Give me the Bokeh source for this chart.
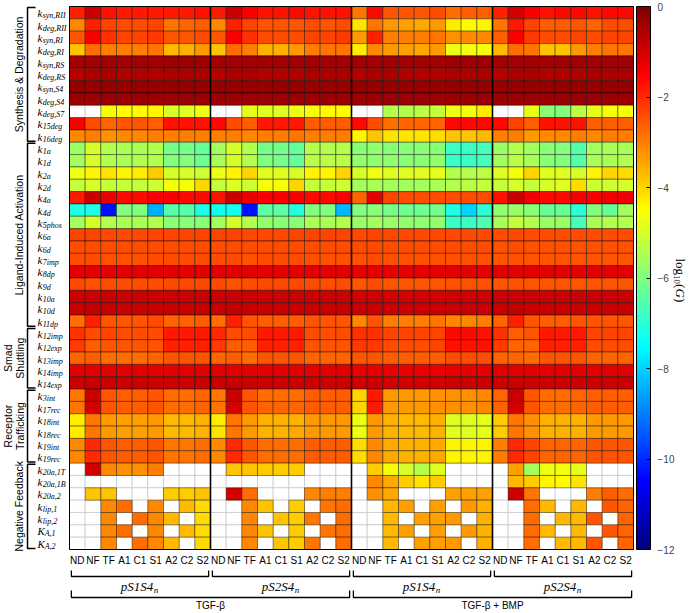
import math
from bokeh.plotting import figure
from bokeh.models import ColumnDataSource, LinearColorMapper, ColorBar, FixedTicker, Range1d
from bokeh.core.properties import value
from bokeh.embed import file_html
from bokeh.resources import INLINE

N = float("nan")

# ---------------- data ----------------
conditions = ["ND", "NF", "TF", "A1", "C1", "S1", "A2", "C2", "S2"]
group_names = ["pS1S4", "pS2S4", "pS1S4", "pS2S4"]
treatments = ["TGF-β", "TGF-β + BMP"]
section_titles = [["Synthesis & Degradation"], ["Ligand-Induced Activation"],
                  ["Smad", "Shuttling"], ["Receptor", "Trafficking"], ["Negative Feedback"]]
param_main = ["k"] * 42 + ["K", "K"]
param_sub = ["syn,RII", "deg,RII", "syn,RI", "deg,RI", "syn,RS", "deg,RS", "syn,S4", "deg,S4",
             "deg,S7", "15deg", "16deg",
             "1a", "1d", "2a", "2d", "4a", "4d", "5phos", "6a", "6d", "7imp", "8dp", "9d",
             "10a", "10d", "11dp",
             "12imp", "12exp", "13imp", "14imp", "14exp",
             "3int", "17rec", "18int", "18rec", "19int", "19rec",
             "20a,1T", "20a,1B", "20a,2", "lip,1", "lip,2", "A,1", "A,2"]

# log10(G) values, columns: 4 groups x (ND NF TF A1 C1 S1 A2 C2 S2); NaN = not applicable
synthesis_degradation = [
    [-1.9, -0.9, -1.7, -1.8, -1.8, -1.8, -1.8, -1.8, -1.7,  -1.8, -0.9, -1.5, -1.7, -1.7, -1.6, -1.7, -1.7, -1.7,
     -2.9, -1.6, -2.5, -2.5, -2.5, -2.4, -2.8, -2.6, -2.6,  -1.9, -1.0, -1.5, -1.7, -1.6, -1.6, -1.7, -1.6, -1.6],
    [-3.1, -1.9, -2.3, -2.4, -2.4, -2.3, -2.9, -2.7, -2.6,  -3.1, -1.9, -2.3, -2.5, -2.5, -2.5, -2.4, -2.5, -2.4,
     -4.2, -2.9, -3.3, -3.4, -3.5, -3.3, -4.3, -4.5, -4.4,  -2.9, -1.8, -2.3, -2.6, -2.6, -2.5, -2.7, -2.4, -2.4],
    [-2.5, -1.5, -2.1, -2.3, -2.3, -2.2, -2.5, -2.5, -2.4,  -2.5, -1.5, -2.1, -2.4, -2.4, -2.4, -2.3, -2.3, -2.2,
     -3.3, -1.9, -3.0, -3.0, -3.0, -2.9, -3.2, -3.1, -3.1,  -2.6, -1.5, -2.2, -2.4, -2.4, -2.3, -2.4, -2.3, -2.3],
    [-3.8, -2.8, -3.0, -3.0, -3.0, -2.9, -3.7, -3.6, -3.3,  -3.8, -2.8, -3.0, -3.6, -3.6, -3.3, -3.0, -2.9, -2.9,
     -4.3, -3.1, -3.3, -3.4, -3.5, -3.3, -4.7, -4.6, -4.6,  -3.7, -2.8, -2.9, -3.8, -3.8, -3.3, -3.0, -2.9, -2.9],
    [-0.45, -0.4, -0.4, -0.4, -0.4, -0.4, -0.35, -0.35, -0.35,  -0.45, -0.4, -0.4, -0.4, -0.4, -0.4, -0.4, -0.4, -0.4,
     -0.4, -0.4, -0.4, -0.4, -0.4, -0.4, -0.35, -0.35, -0.35,  -0.4, -0.4, -0.4, -0.4, -0.4, -0.4, -0.4, -0.4, -0.4],
    [-0.7, -0.55, -0.55, -0.6, -0.6, -0.6, -0.55, -0.55, -0.55,  -0.7, -0.55, -0.55, -0.6, -0.6, -0.6, -0.55, -0.55, -0.55,
     -0.65, -0.55, -0.55, -0.6, -0.6, -0.6, -0.55, -0.55, -0.55,  -0.7, -0.55, -0.55, -0.6, -0.6, -0.6, -0.55, -0.55, -0.55],
    [-0.3, -0.3, -0.3, -0.3, -0.3, -0.3, -0.3, -0.3, -0.3,  -0.3, -0.3, -0.3, -0.3, -0.3, -0.3, -0.3, -0.3, -0.3,
     -0.3, -0.3, -0.3, -0.3, -0.3, -0.3, -0.3, -0.3, -0.3,  -0.3, -0.3, -0.3, -0.3, -0.3, -0.3, -0.3, -0.3, -0.3],
    [-0.35, -0.35, -0.35, -0.35, -0.35, -0.35, -0.35, -0.35, -0.35,  -0.35, -0.35, -0.35, -0.35, -0.35, -0.35, -0.35, -0.35, -0.35,
     -0.35, -0.35, -0.35, -0.35, -0.35, -0.35, -0.35, -0.35, -0.35,  -0.35, -0.35, -0.35, -0.35, -0.35, -0.35, -0.35, -0.35, -0.35],
    [N, N, -4.6, -4.5, -4.5, -4.4, -5.0, -4.9, -4.7,  N, N, -4.8, -4.9, -4.9, -4.7, -4.6, -4.5, -4.5,
     N, N, -5.4, -5.4, -5.3, -5.2, -4.7, -4.6, -4.3,  N, N, -4.8, -5.9, -6.0, -5.3, -4.8, -4.6, -4.6],
    [-1.5, -2.4, -2.7, -2.5, -2.5, -2.6, -1.7, -1.7, -1.7,  -1.6, -2.4, -2.6, -1.8, -1.8, -1.8, -2.6, -2.6, -2.6,
     -1.6, -2.4, -2.8, -2.7, -2.7, -2.7, -1.6, -1.6, -1.6,  -1.6, -2.3, -2.6, -1.7, -1.7, -1.7, -2.6, -2.6, -2.6],
    [-3.1, -3.0, -3.2, -3.1, -3.1, -3.0, -3.0, -3.0, -3.0,  -3.0, -3.0, -3.1, -3.0, -3.0, -2.9, -3.0, -3.0, -3.0,
     -4.4, -3.8, -4.2, -4.2, -4.2, -4.1, -3.8, -3.8, -3.7,  -3.0, -3.0, -3.3, -3.1, -3.1, -3.0, -3.1, -3.0, -3.0],
]

ligand_activation = [
    [-5.7, -5.0, -5.4, -5.5, -5.5, -5.4, -6.1, -6.1, -6.3,  -5.6, -5.0, -5.4, -6.1, -6.1, -6.3, -5.4, -5.4, -5.4,
     -5.9, -5.8, -5.9, -5.9, -5.9, -5.9, -6.8, -6.8, -6.7,  -5.7, -5.4, -5.6, -5.9, -6.0, -6.5, -5.6, -5.5, -5.5],
    [-5.6, -5.0, -5.4, -5.5, -5.4, -5.4, -6.0, -6.0, -6.2,  -5.5, -5.0, -5.4, -6.0, -6.1, -6.3, -5.3, -5.3, -5.3,
     -5.8, -5.8, -5.8, -5.9, -5.9, -5.8, -6.8, -6.8, -6.7,  -5.6, -5.3, -5.5, -5.9, -6.0, -6.5, -5.5, -5.5, -5.4],
    [-4.7, -4.4, -4.2, -4.4, -4.3, -3.9, -5.0, -5.0, -5.1,  -4.7, -4.4, -4.0, -4.9, -4.9, -5.0, -4.4, -4.4, -4.0,
     -5.0, -4.7, -4.9, -4.9, -4.9, -4.8, -5.4, -5.4, -5.3,  -4.9, -4.6, -4.0, -4.9, -4.9, -5.0, -4.4, -4.0, -4.1],
    [-5.2, -5.0, -5.2, -5.2, -5.2, -5.1, -4.6, -4.6, -4.0,  -5.2, -4.9, -5.1, -4.6, -4.6, -4.0, -5.2, -5.2, -5.1,
     -5.6, -5.5, -5.6, -5.6, -5.6, -5.5, -5.4, -5.3, -5.2,  -5.2, -5.0, -5.2, -5.0, -4.9, -4.1, -5.1, -5.1, -5.0],
    [-1.8, -0.9, -1.3, -1.6, -1.6, -1.5, -1.5, -1.6, -1.6,  -1.7, -0.9, -1.3, -1.5, -1.5, -1.5, -1.6, -1.6, -1.5,
     -2.7, -1.2, -2.3, -2.4, -2.4, -2.4, -2.4, -2.4, -2.4,  -1.7, -0.9, -1.4, -1.6, -1.6, -1.5, -1.5, -1.4, -1.4],
    [-7.2, -7.2, -10.3, -6.0, -6.0, -8.4, -6.5, -6.5, -7.2,  -7.3, -7.3, -10.3, -6.4, -6.4, -7.1, -6.0, -6.0, -8.3,
     -6.0, -5.9, -6.1, -6.2, -6.2, -6.1, -7.2, -8.0, -7.0,  -5.8, -5.7, -5.9, -6.3, -6.3, -7.0, -6.0, -6.3, -5.6],
    [-5.6, -5.0, -5.4, -5.5, -5.5, -5.4, -5.9, -5.9, -5.9,  -5.6, -5.0, -5.4, -5.8, -5.9, -5.9, -5.5, -5.5, -5.4,
     -5.7, -5.6, -5.7, -5.8, -5.8, -5.8, -6.8, -6.8, -6.6,  -5.5, -5.2, -5.4, -5.7, -5.7, -6.7, -5.5, -5.4, -5.4],
    [-2.3, -2.3, -2.35, -2.35, -2.35, -2.3, -2.3, -2.3, -2.3,  -2.3, -2.3, -2.35, -2.35, -2.35, -2.3, -2.3, -2.3, -2.3,
     -2.35, -2.3, -2.35, -2.35, -2.35, -2.35, -2.35, -2.35, -2.35,  -2.4, -2.35, -2.4, -2.4, -2.4, -2.4, -2.4, -2.4, -2.4],
    [-2.4, -2.4, -2.4, -2.4, -2.4, -2.4, -2.4, -2.4, -2.4,  -2.4, -2.4, -2.4, -2.4, -2.4, -2.4, -2.4, -2.4, -2.4,
     -2.4, -2.35, -2.4, -2.4, -2.4, -2.4, -2.4, -2.4, -2.4,  -2.45, -2.4, -2.45, -2.45, -2.45, -2.45, -2.45, -2.45, -2.45],
    [-2.4, -2.4, -2.45, -2.45, -2.45, -2.4, -2.4, -2.4, -2.4,  -2.4, -2.4, -2.45, -2.4, -2.4, -2.4, -2.45, -2.45, -2.45,
     -2.45, -2.4, -2.45, -2.45, -2.45, -2.45, -2.45, -2.45, -2.45,  -2.5, -2.45, -2.5, -2.5, -2.5, -2.5, -2.5, -2.5, -2.5],
    [-1.2, -1.2, -1.2, -1.2, -1.2, -1.2, -1.2, -1.2, -1.2,  -1.2, -1.2, -1.2, -1.2, -1.2, -1.2, -1.2, -1.2, -1.2,
     -1.25, -1.2, -1.25, -1.25, -1.25, -1.25, -1.2, -1.2, -1.2,  -1.2, -1.2, -1.2, -1.2, -1.2, -1.2, -1.2, -1.2, -1.2],
    [-2.35, -2.45, -2.4, -2.4, -2.4, -2.4, -2.35, -2.35, -2.35,  -2.35, -2.45, -2.4, -2.35, -2.35, -2.35, -2.4, -2.4, -2.4,
     -2.5, -2.4, -2.5, -2.5, -2.5, -2.5, -2.45, -2.45, -2.45,  -2.5, -2.45, -2.5, -2.5, -2.5, -2.5, -2.5, -2.5, -2.5],
    [-0.9, -0.9, -0.9, -0.9, -0.9, -0.9, -0.9, -0.9, -0.9,  -0.9, -0.9, -0.9, -0.9, -0.9, -0.9, -0.9, -0.9, -0.9,
     -1.0, -0.95, -1.0, -1.0, -1.0, -1.0, -0.95, -0.95, -0.95,  -0.9, -0.9, -0.9, -0.9, -0.9, -0.9, -0.9, -0.9, -0.9],
    [-0.85, -0.8, -0.85, -0.85, -0.85, -0.85, -0.85, -0.85, -0.85,  -0.85, -0.8, -0.85, -0.85, -0.85, -0.85, -0.85, -0.85, -0.85,
     -0.9, -0.85, -0.9, -0.9, -0.9, -0.9, -0.85, -0.85, -0.85,  -0.85, -0.8, -0.85, -0.85, -0.85, -0.85, -0.85, -0.85, -0.85],
    [-2.8, -1.9, -2.5, -2.5, -2.5, -2.4, -2.7, -2.7, -2.6,  -2.8, -1.9, -2.5, -2.6, -2.6, -2.6, -2.5, -2.5, -2.5,
     -3.1, -2.5, -3.0, -3.0, -3.0, -2.9, -3.1, -3.1, -3.0,  -2.7, -1.9, -2.5, -2.6, -2.6, -2.5, -2.5, -2.5, -2.5],
]

smad_shuttling = [
    [-2.1, -2.4, -2.3, -2.4, -2.4, -2.4, -1.8, -1.8, -1.8,  -2.0, -2.4, -2.4, -1.8, -1.8, -1.8, -2.4, -2.4, -2.4,
     -2.1, -2.1, -2.3, -2.3, -2.3, -2.3, -1.6, -1.6, -1.7,  -2.1, -2.6, -2.5, -1.8, -1.8, -1.8, -2.3, -2.3, -2.3],
    [-2.2, -2.6, -2.5, -2.5, -2.5, -2.5, -1.9, -1.9, -1.9,  -2.2, -2.6, -2.6, -1.9, -1.9, -1.9, -2.5, -2.5, -2.5,
     -2.2, -2.2, -2.4, -2.4, -2.4, -2.3, -1.7, -1.7, -1.7,  -2.2, -2.7, -2.7, -1.9, -1.9, -1.9, -2.4, -2.4, -2.4],
    [-2.7, -2.6, -2.8, -2.8, -2.8, -2.7, -2.5, -2.5, -2.5,  -2.7, -2.6, -2.8, -2.5, -2.5, -2.5, -2.7, -2.7, -2.7,
     -2.5, -2.5, -2.6, -2.6, -2.6, -2.6, -2.4, -2.4, -2.4,  -2.7, -2.7, -2.8, -2.5, -2.5, -2.5, -2.7, -2.7, -2.7],
    [-1.2, -1.2, -1.2, -1.2, -1.2, -1.2, -1.2, -1.2, -1.2,  -1.2, -1.2, -1.2, -1.2, -1.2, -1.2, -1.2, -1.2, -1.2,
     -1.3, -1.25, -1.3, -1.3, -1.3, -1.3, -1.25, -1.25, -1.25,  -1.2, -1.2, -1.2, -1.2, -1.2, -1.2, -1.2, -1.2, -1.2],
    [-0.9, -0.85, -0.9, -0.9, -0.9, -0.9, -0.9, -0.9, -0.9,  -0.9, -0.85, -0.9, -0.9, -0.9, -0.9, -0.9, -0.9, -0.9,
     -0.95, -0.9, -0.95, -0.95, -0.95, -0.95, -0.9, -0.9, -0.9,  -0.9, -0.85, -0.9, -0.9, -0.9, -0.9, -0.9, -0.9, -0.9],
]

receptor_trafficking = [
    [-2.9, -0.9, -2.5, -2.6, -2.6, -2.5, -2.8, -2.8, -2.7,  -2.9, -0.9, -2.5, -2.8, -2.8, -2.8, -2.6, -2.6, -2.6,
     -4.0, -1.8, -3.3, -3.3, -3.3, -3.2, -3.2, -3.2, -3.1,  -2.7, -0.9, -2.5, -2.8, -2.8, -2.7, -2.6, -2.6, -2.6],
    [-2.9, -1.0, -2.5, -2.6, -2.6, -2.5, -2.8, -2.8, -2.7,  -2.9, -1.0, -2.5, -2.7, -2.7, -2.7, -2.6, -2.6, -2.6,
     -4.0, -1.8, -3.3, -3.3, -3.3, -3.2, -3.2, -3.2, -3.1,  -2.7, -1.0, -2.5, -2.8, -2.8, -2.7, -2.6, -2.6, -2.6],
    [-4.3, -2.9, -3.3, -3.4, -3.4, -3.3, -3.7, -3.7, -3.6,  -4.3, -2.9, -3.3, -3.6, -3.6, -3.6, -3.3, -3.3, -3.3,
     -4.7, -3.3, -3.6, -3.7, -3.7, -3.6, -4.9, -4.9, -4.8,  -3.9, -2.9, -3.2, -3.6, -3.6, -3.6, -3.3, -3.3, -3.3],
    [-4.3, -2.9, -3.3, -3.4, -3.4, -3.3, -3.7, -3.7, -3.6,  -4.2, -2.9, -3.3, -3.6, -3.6, -3.5, -3.3, -3.3, -3.3,
     -4.7, -3.3, -3.6, -3.7, -3.7, -3.6, -4.9, -4.9, -4.8,  -3.9, -2.9, -3.2, -3.6, -3.6, -3.6, -3.3, -3.3, -3.3],
    [-3.1, -2.0, -2.5, -2.6, -2.6, -2.5, -2.9, -2.9, -2.8,  -3.1, -2.0, -2.5, -2.8, -2.8, -2.8, -2.6, -2.6, -2.6,
     -4.1, -3.1, -3.5, -3.6, -3.6, -3.5, -4.4, -4.4, -4.4,  -3.0, -2.0, -2.3, -2.7, -2.7, -2.7, -2.5, -2.5, -2.5],
    [-3.1, -2.0, -2.5, -2.6, -2.6, -2.5, -2.9, -2.9, -2.8,  -3.1, -2.0, -2.5, -2.8, -2.8, -2.8, -2.6, -2.6, -2.6,
     -4.1, -3.1, -3.5, -3.6, -3.6, -3.5, -4.4, -4.4, -4.4,  -3.0, -2.0, -2.3, -2.7, -2.7, -2.7, -2.5, -2.5, -2.5],
]

negative_feedback = [
    [N, -1.0, -3.1, -3.2, -3.2, -3.0, N, N, N,  N, -3.8, -3.8, -3.9, -3.9, -3.9, N, N, N,
     N, -3.9, -4.6, -5.0, -5.4, -4.9, N, N, N,  N, -3.4, -5.6, -4.7, -4.6, -4.8, N, N, N],
    [N, N, N, N, N, N, N, N, N,  N, N, N, N, N, N, N, N, N,
     N, -3.1, -3.5, -3.9, -4.2, -3.9, N, N, N,  N, -3.7, -3.9, -4.4, -4.5, -4.2, N, N, N],
    [N, -3.8, -3.8, N, N, N, -3.9, -3.9, -3.8,  N, -1.0, -2.8, N, N, N, -3.1, -3.0, -3.0,
     N, -3.2, -3.5, N, N, N, -3.4, -3.4, -3.4,  N, -0.9, -2.9, N, N, N, -3.0, -2.6, -2.8],
    [N, N, -3.1, -2.8, N, -3.1, N, -3.7, -4.1,  N, N, -3.1, -3.8, N, -3.9, N, -2.9, -2.8,
     N, N, -3.7, -3.4, N, -3.4, N, -3.3, -3.6,  N, N, -2.8, -3.7, N, -3.7, N, -2.5, -2.7],
    [N, N, -3.1, N, -2.8, -3.1, -3.7, N, -4.1,  N, N, -3.1, N, -3.8, -3.9, -2.9, N, -2.8,
     N, N, -3.7, N, -3.4, -3.4, -3.3, N, -3.6,  N, N, -2.8, N, -3.7, -3.7, -2.5, N, -2.7],
    [N, N, -3.1, -2.8, N, -3.1, N, -3.7, -4.1,  N, N, -3.1, -3.8, N, -3.9, N, -2.9, -2.8,
     N, N, -3.7, -3.4, N, -3.4, N, -3.3, -3.6,  N, N, -2.8, -3.7, N, -3.7, N, -2.5, -2.7],
    [N, N, -3.1, N, -2.8, -3.1, -3.7, N, -4.1,  N, N, -3.1, N, -3.8, -3.9, -2.9, N, -2.8,
     N, N, -3.7, N, -3.4, -3.4, -3.3, N, -3.6,  N, N, -2.8, N, -3.7, -3.7, -2.5, N, -2.7],
]

colorbar_ticks = [-12, -10, -8, -6, -4, -2, 0]

# ---------------- layout helpers ----------------
W, H = 689, 613
HX0, HX1 = 69.0, 633.0     # heatmap left/right (px)
HY0, HY1 = 6.0, 549.0      # heatmap top/bottom (px)
NCOL = 4 * len(conditions)
sections = [synthesis_degradation, ligand_activation, smad_shuttling, receptor_trafficking, negative_feedback]
rows = [r for sec in sections for r in sec]
NROW = len(rows)
CW = (HX1 - HX0) / NCOL
RH = (HY1 - HY0) / NROW


def dx(px):
    return (px - HX0) / CW


def dy(py):
    return (py - HY0) / RH


def jet(n=256):
    out = []
    for i in range(n):
        v = i / (n - 1)
        r = min(1, max(0, 1.5 - abs(4 * v - 3)))
        g = min(1, max(0, 1.5 - abs(4 * v - 2)))
        b = min(1, max(0, 1.5 - abs(4 * v - 1)))
        out.append("#%02x%02x%02x" % (round(r * 255), round(g * 255), round(b * 255)))
    return out


mapper = LinearColorMapper(palette=jet(), low=-12, high=0, nan_color="white")

p = figure(width=W, height=H, x_range=Range1d(dx(0), dx(W)), y_range=Range1d(dy(H), dy(0)),
           output_backend="svg", toolbar_location=None, tools="",
           x_axis_location=None, y_axis_location=None, min_border=0)
p.outline_line_color = None
p.grid.visible = False
p.background_fill_color = "white"

# ---------------- cells ----------------
cx, cy, cv, nx, ny = [], [], [], [], []
for i, row in enumerate(rows):
    for j, v in enumerate(row):
        if math.isnan(v):
            nx.append(j + 0.5); ny.append(i + 0.5)
        else:
            cx.append(j + 0.5); cy.append(i + 0.5); cv.append(v)

p.rect(x="x", y="y", width=1, height=1, source=ColumnDataSource(dict(x=nx, y=ny)),
       fill_color="white", line_color="#c4c4c4", line_width=0.7)
p.rect(x="x", y="y", width=1, height=1, source=ColumnDataSource(dict(x=cx, y=cy, v=cv)),
       fill_color={"field": "v", "transform": mapper}, line_color="black", line_alpha=0.7, line_width=0.6)

ng = len(conditions)
p.segment(x0=[ng, 2 * ng, 3 * ng], y0=[0] * 3, x1=[ng, 2 * ng, 3 * ng], y1=[NROW] * 3,
          line_color="black", line_width=1.6)
p.quad(left=[0], right=[NCOL], top=[0], bottom=[NROW], fill_color=None, line_color="black", line_width=1.0)

# ---------------- row labels ----------------
yc = [i + 0.5 for i in range(NROW)]
p.text(x=[dx(37)] * NROW, y=yc, text=param_main, text_font=value("Liberation Serif"),
       text_font_style="italic", text_font_size="11px", text_align="left",
       text_baseline="middle", y_offset=0.5, text_color="black")
sub_off = [7.2 if m == "K" else 5.2 for m in param_main]
p.text(x=[dx(37)] * NROW, y=yc, text=param_sub, x_offset=sub_off, text_font=value("Liberation Serif"),
       text_font_style="italic", text_font_size="8px", text_align="left",
       text_baseline="middle", y_offset=3.0, text_color="black")

# section brackets and titles
start = 0
bx0, bx1 = dx(27), dx(35)
for sec, title in zip(sections, section_titles):
    end = start + len(sec)
    a, b = start + 0.09, end - 0.09
    p.line(x=[bx1, bx0, bx0, bx1], y=[a, a, b, b], line_color="black", line_width=1.5)
    mid = (start + end) / 2
    if len(title) == 1:
        xs = [dx(18)]
    else:
        xs = [dx(7.5), dx(19)]
    p.text(x=xs, y=[mid] * len(xs), text=title, angle=math.pi / 2, text_font=value("Liberation Sans"),
           text_font_size="10.5px", text_align="center", text_baseline="middle", text_color="black")
    start = end

# ---------------- bottom labels ----------------
col_labels = conditions * 4
p.text(x=[j + 0.5 for j in range(NCOL)], y=[dy(560)] * NCOL, text=col_labels,
       text_font=value("Liberation Sans"), text_font_size="10px", text_align="center",
       text_baseline="middle", text_color="black")

ins = 0.12
for g, name in enumerate(group_names):
    l, r = g * ng + ins, (g + 1) * ng - ins
    p.line(x=[l, l, r, r], y=[dy(570), dy(576), dy(576), dy(570)], line_color="black", line_width=1.3)
    c = g * ng + ng / 2
    p.text(x=[c], y=[dy(586)], text=[name], x_offset=-3, text_font=value("Liberation Serif"),
           text_font_style="italic", text_font_size="13px", text_align="center",
           text_baseline="middle", text_color="black")
    p.text(x=[c], y=[dy(586)], text=["n"], x_offset=13.7, y_offset=3.5, text_font=value("Liberation Serif"),
           text_font_style="italic", text_font_size="9px", text_align="left",
           text_baseline="middle", text_color="black")

for t, name in enumerate(treatments):
    l, r = t * 2 * ng + ins, (t + 1) * 2 * ng - ins
    p.line(x=[l, l, r, r], y=[dy(590), dy(597), dy(597), dy(590)], line_color="black", line_width=1.3)
    p.text(x=[t * 2 * ng + ng], y=[dy(605)], text=[name], text_font=value("Liberation Sans"),
           text_font_size="10px", text_align="center", text_baseline="middle", text_color="black")

# ---------------- colour bar ----------------
cb = ColorBar(color_mapper=mapper, location=(636, H - HY1), width=14, height=int(HY1 - HY0),
              padding=0, margin=0, ticker=FixedTicker(ticks=colorbar_ticks),
              major_label_overrides={t: (str(t).replace("-", "\u2212")) for t in colorbar_ticks},
              major_label_text_font="Liberation Sans", major_label_text_font_size="10px",
              major_tick_in=4, major_tick_out=0, major_tick_line_color="black",
              bar_line_color="black", label_standoff=7, background_fill_alpha=0)
p.add_layout(cb)

# rotated title log10(G)
ty = 258.0
lx = dx(679.5)
p.text(x=[lx], y=[dy(ty)], text=["log"], angle=-math.pi / 2, text_font=value("Liberation Serif"),
       text_font_size="13px", text_align="left", text_baseline="middle", text_color="black")
p.text(x=[dx(676.5)], y=[dy(ty + 16.8)], text=["10"], angle=-math.pi / 2, text_font=value("Liberation Serif"),
       text_font_size="8.5px", text_align="left", text_baseline="middle", text_color="black")
p.text(x=[lx], y=[dy(ty + 25.5)], text=["("], angle=-math.pi / 2, text_font=value("Liberation Serif"),
       text_font_size="13px", text_align="left", text_baseline="middle", text_color="black")
p.text(x=[lx], y=[dy(ty + 30)], text=["G"], angle=-math.pi / 2, text_font=value("Liberation Serif"),
       text_font_style="italic", text_font_size="13px", text_align="left", text_baseline="middle",
       text_color="black")
p.text(x=[lx], y=[dy(ty + 39.5)], text=[")"], angle=-math.pi / 2, text_font=value("Liberation Serif"),
       text_font_size="13px", text_align="left", text_baseline="middle", text_color="black")

open("out.html", "w").write(file_html(p, INLINE))
